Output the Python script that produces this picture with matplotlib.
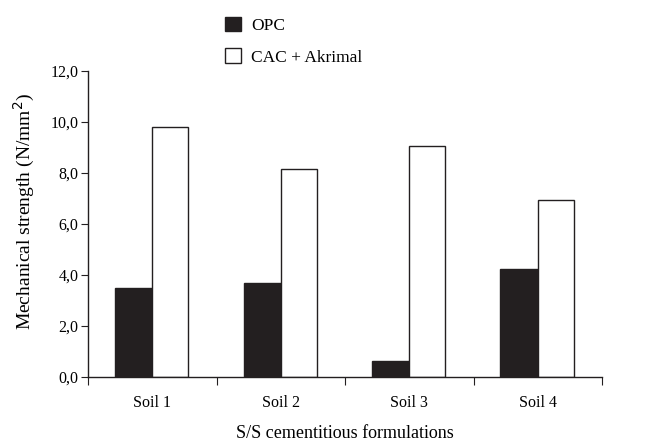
import matplotlib
matplotlib.use("Agg")
import matplotlib.pyplot as plt
import numpy as np

categories = ["Soil 1", "Soil 2", "Soil 3", "Soil 4"]
opc = [3.49, 3.69, 0.63, 4.22]
cac = [9.80, 8.16, 9.06, 6.94]
series_names = ["OPC", "CAC + Akrimal"]
yticks = [0, 2, 4, 6, 8, 10, 12]
ytick_labels = ["0,0", "2,0", "4,0", "6,0", "8,0", "10,0", "12,0"]

plt.rcParams['font.family'] = ['Liberation Serif', 'DejaVu Serif']

fig = plt.figure(figsize=(6.55, 4.43), dpi=100)
ax = fig.add_axes([0.1344, 0.149, 0.9191 - 0.1344, 0.8397 - 0.149])

x = np.arange(len(categories))
w = 0.29
dark = "#231f20"
b1 = ax.bar(x - w / 2, opc, width=w, color=dark, edgecolor=dark, linewidth=1.0, label=series_names[0])
b2 = ax.bar(x + w / 2 - 0.005, cac, width=w - 0.01, color="white", edgecolor=dark, linewidth=1.0, label=series_names[1])

ax.set_xlim(-0.5, len(categories) - 0.5)
ax.set_ylim(0, 12)
ax.set_yticks(yticks)
ax.set_yticklabels(ytick_labels)
ax.set_xticks(np.arange(-0.5, len(categories), 1.0))
ax.set_xticklabels([])
ax.set_xticks(x, minor=True)
ax.set_xticklabels(categories, minor=True)
ax.tick_params(axis='x', which='minor', length=0, pad=13, labelsize=11.5)
ax.tick_params(axis='x', which='major', direction='out', length=6, color=dark)
ax.tick_params(axis='y', direction='out', length=5, labelsize=11.5, color=dark, pad=2)
for s in ["top", "right"]:
    ax.spines[s].set_visible(False)
for s in ["left", "bottom"]:
    ax.spines[s].set_color(dark)
    ax.spines[s].set_linewidth(1.0)

ax.set_ylabel("Mechanical strength (N/mm$^2$)", fontsize=14)
ax.yaxis.set_label_coords(-0.1, 0.54)
ax.set_xlabel("S/S cementitious formulations", fontsize=13, labelpad=10)

fig.legend(handles=[b1, b2], labels=series_names, loc="upper left",
           bbox_to_anchor=(0.32, 0.998), frameon=False, fontsize=12.5,
           handlelength=0.9, handleheight=0.9, handletextpad=0.6, labelspacing=0.85)

fig.savefig("out.png", dpi=100)
